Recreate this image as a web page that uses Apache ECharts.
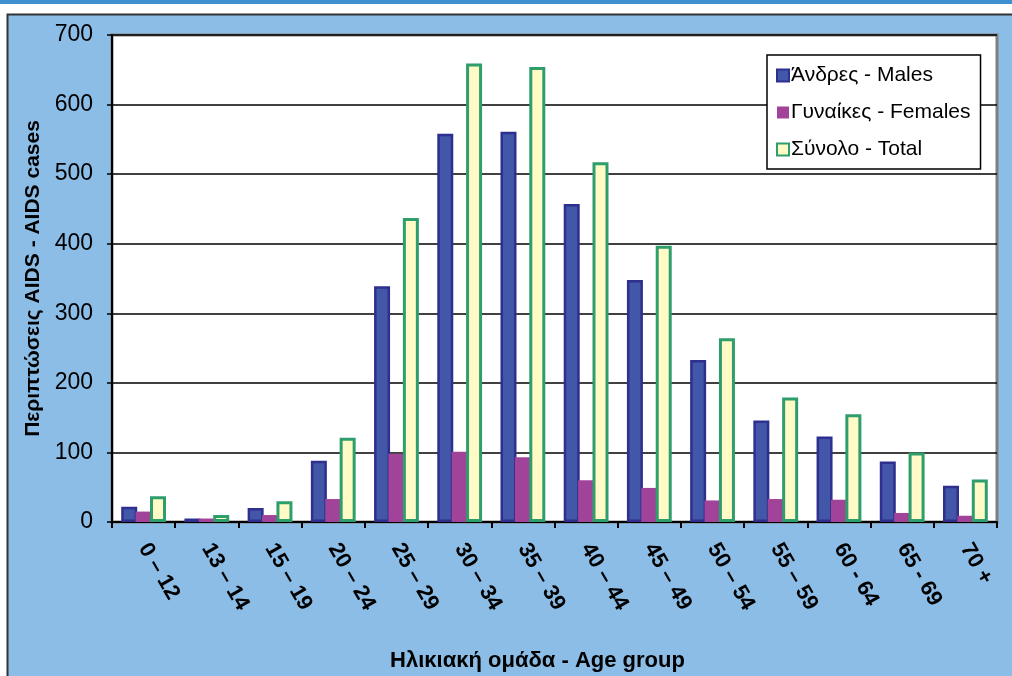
<!DOCTYPE html>
<html>
<head>
<meta charset="utf-8">
<script src="https://cdn.jsdelivr.net/npm/echarts@6/dist/echarts.min.js"></script>
<style>
html,body{margin:0;padding:0;background:#fff;}
#c{width:1012px;height:676px;}
</style>
</head>
<body>
<div id="c"></div>
<script>
const categories = ['0 – 12','13 – 14','15 – 19','20 – 24','25 – 29','30 – 34','35 – 39','40 – 44','45 – 49','50 – 54','55 – 59','60 - 64','65 - 69','70 +'];
const males   = [22, 5, 20, 88, 339, 558, 561, 457, 348, 233, 146, 123, 87, 52];
const females = [15, 5, 10, 33,  98, 101,  93,  60,  49,  31,  33,  32, 13,  9];
const totals  = [37, 10, 30, 121, 437, 659, 654, 517, 397, 264, 179, 155, 100, 61];
const yTicks = [0, 100, 700, 100]; // min, interval, max
const seriesNames = ['Άνδρες - Males','Γυναίκες - Females','Σύνολο - Total'];

const FONT = '"Liberation Sans", Arial, sans-serif';
const chart = echarts.init(document.getElementById('c'), null, {renderer:'canvas'});
chart.setOption({
  animation:false,
  backgroundColor:'#ffffff',
  textStyle:{fontFamily:FONT},
  graphic:[
    {type:'rect', z:-10, shape:{x:0,y:0,width:1012,height:4}, style:{fill:'#3d8fcf'}},
    {type:'rect', z:-10, shape:{x:7.5,y:14.5,width:1020,height:700}, style:{fill:'#8bbde6', stroke:'#333333', lineWidth:2}}
  ],
  legend:{
    orient:'vertical', left:767, top:55,
    backgroundColor:'#ffffff', borderColor:'#000', borderWidth:1.5,
    padding:[10,10,9,9], itemGap:16, itemWidth:12, itemHeight:12,
    textStyle:{fontSize:21, color:'#000', fontFamily:FONT, padding:[0,0,0,-3]},
    data:[
      {name:seriesNames[0], icon:'rect'},
      {name:seriesNames[1], icon:'rect'},
      {name:seriesNames[2], icon:'rect'}
    ]
  },
  grid:{left:112, top:35, right:15, bottom:154, outerBoundsMode:'none', containLabel:false, show:true, backgroundColor:'#ffffff', borderColor:'#808080', borderWidth:3},
  xAxis:{
    type:'category', data:categories,
    axisLine:{lineStyle:{color:'#000', width:2}},
    axisTick:{show:true, length:6, lineStyle:{color:'#000', width:2}},
    axisLabel:{rotate:-60, fontSize:22, fontWeight:'bold', color:'#000', margin:23, interval:0, fontFamily:FONT},
    name:'Ηλικιακή ομάδα - Age group', nameLocation:'middle', nameGap:128,
    nameTextStyle:{fontSize:22, fontWeight:'bold', color:'#000', padding:[0,34,0,0], fontFamily:FONT}
  },
  yAxis:{
    type:'value', min:yTicks[0], interval:yTicks[1], max:yTicks[2],
    axisLine:{show:true, lineStyle:{color:'#000', width:2}},
    axisTick:{show:true, length:5, lineStyle:{color:'#000', width:1.5}},
    axisLabel:{fontSize:23, color:'#000', margin:19, fontFamily:FONT},
    splitLine:{lineStyle:{color:'#000', width:1.5}},
    name:'Περιπτώσεις AIDS - AIDS cases', nameLocation:'middle', nameGap:68,
    nameTextStyle:{fontSize:21, fontWeight:'bold', color:'#000', fontFamily:FONT}
  },
  series:[
    {name:seriesNames[0], type:'bar', data:males, barWidth:16, barGap:'-10%',
     itemStyle:{color:'#4257a7', borderColor:'#2f2f8f', borderWidth:2.5}},
    {name:seriesNames[1], type:'bar', data:females, barWidth:16, barGap:'-10%',
     itemStyle:{color:'#a2439a', borderColor:'#a2439a', borderWidth:0}},
    {name:seriesNames[2], type:'bar', data:totals, barWidth:16, barGap:'-10%',
     itemStyle:{color:'#fffac6', borderColor:'#2e9e6c', borderWidth:3}}
  ]
});
</script>
</body>
</html>
